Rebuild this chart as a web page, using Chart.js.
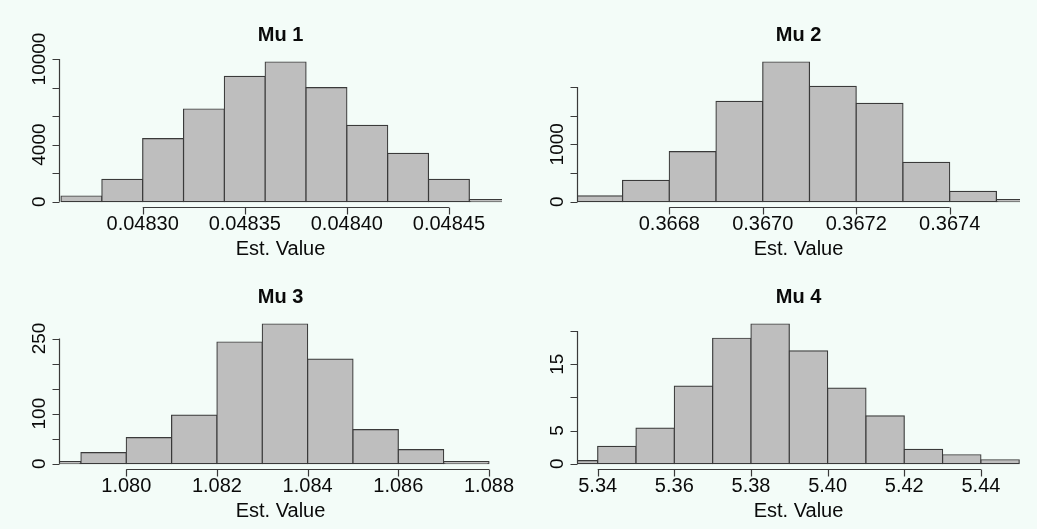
<!DOCTYPE html>
<html>
<head>
<meta charset="utf-8">
<title>Mu histograms</title>
<script src="https://cdn.jsdelivr.net/npm/chart.js@4.4.0/dist/chart.umd.min.js"></script>
<style>
  html, body { margin: 0; padding: 0; background: #f3fcf8; }
  #wrap { position: relative; width: 1037px; height: 529px; overflow: hidden; }
  .panel { position: absolute; width: 518px; height: 264px; }
</style>
</head>
<body>
<div id="wrap">
  <div class="panel" style="left:0;top:0"><canvas id="mu1" width="518" height="264"></canvas></div>
  <div class="panel" style="left:518px;top:0"><canvas id="mu2" width="518" height="264"></canvas></div>
  <div class="panel" style="left:0;top:262px"><canvas id="mu3" width="518" height="264"></canvas></div>
  <div class="panel" style="left:518px;top:262px"><canvas id="mu4" width="518" height="264"></canvas></div>
</div>
<script>
// ---- data (density histograms) ----
const mu1Breaks = [0.04826, 0.04828, 0.04830, 0.04832, 0.04834, 0.04836, 0.04838, 0.04840, 0.04842, 0.04844, 0.04846, 0.04848];
const mu1Density = [400, 1570, 4415, 6496, 8787, 9790, 7989, 5354, 3391, 1570, 70];
const mu1XTicks = [0.04830, 0.04835, 0.04840, 0.04845];
const mu1XLabels = ['0.04830', '0.04835', '0.04840', '0.04845'];
const mu1YTicks = [0, 2000, 4000, 6000, 8000, 10000];
const mu1YLabels = ['0', '', '4000', '', '', '10000'];
const mu1XRange = [0.048259, 0.048476];

const mu2Breaks = [0.3666, 0.3667, 0.3668, 0.3669, 0.3670, 0.3671, 0.3672, 0.3673, 0.3674, 0.3675, 0.3676];
const mu2Density = [100, 373, 871, 1749, 2434, 2010, 1714, 686, 181, 20];
const mu2XTicks = [0.3668, 0.3670, 0.3672, 0.3674];
const mu2XLabels = ['0.3668', '0.3670', '0.3672', '0.3674'];
const mu2YTicks = [0, 500, 1000, 1500, 2000];
const mu2YLabels = ['0', '', '1000', '', ''];
const mu2XRange = [0.3666025, 0.3675505];

const mu3Breaks = [1.078, 1.079, 1.080, 1.081, 1.082, 1.083, 1.084, 1.085, 1.086, 1.087, 1.088];
const mu3Density = [1, 22, 52, 97, 243, 279, 209, 68, 28, 4];
const mu3XTicks = [1.080, 1.082, 1.084, 1.086, 1.088];
const mu3XLabels = ['1.080', '1.082', '1.084', '1.086', '1.088'];
const mu3YTicks = [0, 50, 100, 150, 200, 250];
const mu3YLabels = ['0', '', '100', '', '', '250'];
const mu3XRange = [1.078516, 1.088287];

const mu4Breaks = [5.33, 5.34, 5.35, 5.36, 5.37, 5.38, 5.39, 5.40, 5.41, 5.42, 5.43, 5.44, 5.45];
const mu4Density = [0.45, 2.6, 5.37, 11.7, 18.9, 21.05, 17.0, 11.4, 7.2, 2.15, 1.35, 0.6];
const mu4XTicks = [5.34, 5.36, 5.38, 5.40, 5.42, 5.44];
const mu4XLabels = ['5.34', '5.36', '5.38', '5.40', '5.42', '5.44'];
const mu4YTicks = [0, 5, 10, 15, 20];
const mu4YLabels = ['0', '5', '', '15', ''];
const mu4XRange = [5.3346, 5.4502];

const FONT = '"Liberation Sans", Arial, sans-serif';
const INK = '#3a3a3a';

// R style axes: line only between first and last tick, outward ticks
const rAxes = {
  id: 'rAxes',
  afterDraw(chart, args, opts) {
    const { ctx, chartArea: area, scales: { x, y } } = chart;
    ctx.save();
    ctx.strokeStyle = INK;
    ctx.fillStyle = '#0a0a0a';
    ctx.lineWidth = 1.2;

    // x axis
    const xb = Math.round(area.bottom) + 0.5;
    const xs = opts.xTicks.map(v => x.getPixelForValue(v));
    ctx.beginPath();
    ctx.moveTo(xs[0], xb);
    ctx.lineTo(xs[xs.length - 1], xb);
    xs.forEach(px => { ctx.moveTo(Math.round(px) + 0.5, xb); ctx.lineTo(Math.round(px) + 0.5, xb + 7); });
    ctx.stroke();
    ctx.font = '20px ' + FONT;
    ctx.textAlign = 'center';
    ctx.textBaseline = 'alphabetic';
    xs.forEach((px, i) => ctx.fillText(opts.xLabels[i], px, area.bottom + 23));

    // y axis
    const yl = Math.round(area.left) + 0.5;
    const ys = opts.yTicks.map(v => y.getPixelForValue(v));
    ctx.beginPath();
    ctx.moveTo(yl, ys[0]);
    ctx.lineTo(yl, ys[ys.length - 1]);
    ys.forEach(py => { ctx.moveTo(yl, Math.round(py) + 0.5); ctx.lineTo(yl - 7, Math.round(py) + 0.5); });
    ctx.stroke();
    ctx.font = '19px ' + FONT;
    ys.forEach((py, i) => {
      if (!opts.yLabels[i]) return;
      ctx.save();
      ctx.translate(area.left - 14, py);
      ctx.rotate(-Math.PI / 2);
      ctx.fillText(opts.yLabels[i], 0, 0);
      ctx.restore();
    });

    // title and x label
    const cx = (area.left + area.right) / 2;
    ctx.font = 'bold 20px ' + FONT;
    ctx.fillText(opts.title, cx, 40.7);
    ctx.font = '20px ' + FONT;
    ctx.fillText(opts.xTitle, cx, 255);
    ctx.restore();
  }
};

function makeHist(id, title, breaks, density, xRange, xTicks, xLabels, yTicks, yLabels) {
  const points = density.map((d, i) => ({ x: (breaks[i] + breaks[i + 1]) / 2, y: d }));
  const top = Math.max(...density);
  new Chart(document.getElementById(id), {
    type: 'bar',
    data: {
      datasets: [{
        data: points,
        backgroundColor: '#bebebe',
        borderColor: INK,
        borderWidth: 1.2,
        borderSkipped: false,
        inflateAmount: 0.6, // neighbours share one edge line, as in R
        minBarLength: 2,
        barPercentage: 1,
        categoryPercentage: 1,
        clip: 0
      }]
    },
    options: {
      responsive: false,
      animation: false,
      layout: { padding: { left: 59, right: 16, top: 56.4, bottom: 56.7 } },
      plugins: {
        legend: { display: false },
        tooltip: { enabled: false },
        rAxes: { title, xTitle: 'Est. Value', xTicks, xLabels, yTicks, yLabels }
      },
      scales: {
        x: { type: 'linear', offset: false, min: xRange[0], max: xRange[1], display: false },
        y: { type: 'linear', min: -0.04 * top, max: 1.04 * top, display: false }
      }
    },
    plugins: [rAxes]
  });
}

makeHist('mu1', 'Mu 1', mu1Breaks, mu1Density, mu1XRange, mu1XTicks, mu1XLabels, mu1YTicks, mu1YLabels);
makeHist('mu2', 'Mu 2', mu2Breaks, mu2Density, mu2XRange, mu2XTicks, mu2XLabels, mu2YTicks, mu2YLabels);
makeHist('mu3', 'Mu 3', mu3Breaks, mu3Density, mu3XRange, mu3XTicks, mu3XLabels, mu3YTicks, mu3YLabels);
makeHist('mu4', 'Mu 4', mu4Breaks, mu4Density, mu4XRange, mu4XTicks, mu4XLabels, mu4YTicks, mu4YLabels);
</script>
</body>
</html>
